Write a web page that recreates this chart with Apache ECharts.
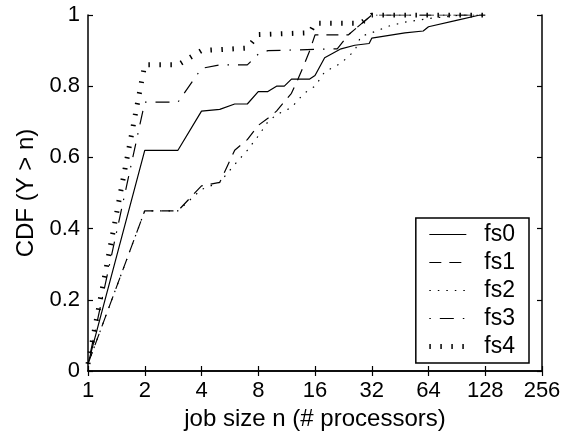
<!DOCTYPE html>
<html>
<head>
<meta charset="utf-8">
<script src="https://cdn.jsdelivr.net/npm/echarts@6/dist/echarts.min.js"></script>
<style>html,body{margin:0;padding:0;background:#fff;}#c{width:570px;height:438px;}</style>
</head>
<body>
<div id="c"></div>
<script>
var seriesNames = ['fs0', 'fs1', 'fs2', 'fs3', 'fs4'];
var fs0 = [[1,0.02],[2,0.62],[3,0.62],[4,0.73],[5,0.735],[6,0.75],[7,0.75],[8,0.785],[9,0.785],[10,0.80],[11,0.80],[12,0.82],[15,0.82],[16,0.83],[18,0.88],[22,0.905],[26,0.915],[31,0.92],[32,0.935],[48,0.95],[60,0.955],[64,0.967],[90,0.985],[120,1.0],[128,1.0]];
var fs1 = [[1,0.02],[2,0.45],[3,0.45],[4,0.52],[5,0.53],[6,0.62],[7,0.65],[8,0.69],[9,0.71],[10,0.73],[12,0.78],[13,0.82],[14,0.86],[15,0.90],[16,0.944],[24,0.944],[32,1.0],[128,1.0]];
var fs2 = [[1,0.02],[2,0.45],[3,0.45],[4,0.51],[5,0.53],[6,0.58],[7,0.62],[8,0.66],[9,0.70],[10,0.72],[12,0.74],[14,0.78],[16,0.80],[18,0.84],[22,0.865],[26,0.90],[28,0.94],[32,0.95],[40,0.97],[48,0.98],[64,0.99],[96,1.0],[128,1.0]];
var fs3 = [[1,0.02],[2,0.755],[3,0.755],[4,0.85],[5,0.86],[7,0.86],[8,0.89],[9,0.90],[21,0.905],[24,0.944],[32,1.0],[128,1.0]];
var fs4 = [[1,0.02],[2,0.86],[3,0.86],[4,0.90],[7,0.907],[8,0.945],[15,0.95],[16,0.977],[28,0.977],[32,1.0],[128,1.0]];
var xTicks = [1, 2, 4, 8, 16, 32, 64, 128, 256];
var yTicks = [0, 0.2, 0.4, 0.6, 0.8, 1];
var xName = 'job size n (# processors)';
var yName = 'CDF (Y > n)';

var FONT = '"Liberation Sans", Arial, sans-serif';
var dataSets = [fs0, fs1, fs2, fs3, fs4];
var styles = [
  {width: 1.2, type: 'solid'},
  {width: 1.2, type: [12, 8]},
  {width: 1.2, type: [1.5, 7]},
  {width: 1.2, type: [1.5, 9, 14, 9]},
  {width: 5, type: [1.5, 9.5]}
];

var chart = echarts.init(document.getElementById('c'), null, {renderer: 'canvas'});
var axisLine = {show: true, lineStyle: {color: '#000', width: 1.5}};
var tick = {show: true, inside: true, length: 5, lineStyle: {color: '#000', width: 1.2}};
function xAx(pos, show) {
  return {
    type: 'log', logBase: 2, min: xTicks[0], max: xTicks[xTicks.length - 1], position: pos,
    axisLine: axisLine, axisTick: tick, splitLine: {show: false},
    axisLabel: {show: show, color: '#000', fontFamily: FONT, fontSize: 22, margin: 9},
    name: show ? xName : '', nameLocation: 'middle', nameGap: 36,
    nameTextStyle: {color: '#000', fontFamily: FONT, fontSize: 24}
  };
}
function yAx(pos, show) {
  return {
    type: 'value', min: yTicks[0], max: yTicks[yTicks.length - 1], interval: 0.2, position: pos,
    axisLine: axisLine, axisTick: tick, splitLine: {show: false},
    axisLabel: {show: show, color: '#000', fontFamily: FONT, fontSize: 22, margin: 8},
    name: show ? yName : '', nameLocation: 'middle', nameGap: 46,
    nameTextStyle: {color: '#000', fontFamily: FONT, fontSize: 24}
  };
}
chart.setOption({
  animation: false,
  backgroundColor: '#fff',
  grid: {left: 88, right: 28, top: 15, bottom: 67, containLabel: false},
  xAxis: [xAx('bottom', true), xAx('top', false)],
  yAxis: [yAx('left', true), yAx('right', false)],
  legend: {
    orient: 'vertical', right: 41, top: 218,
    backgroundColor: '#fff', borderColor: '#000', borderWidth: 1.5,
    padding: [5, 14, 5, 11], itemWidth: 37, itemHeight: 14, itemGap: 5,
    itemStyle: {opacity: 0},
    textStyle: {color: '#000', fontFamily: FONT, fontSize: 23, lineHeight: 22, padding: [0, 0, 0, 13]},
    data: seriesNames.map(function (n, i) {
      return {name: n, lineStyle: {color: '#000', width: styles[i].width, type: styles[i].type, cap: 'butt'}};
    })
  },
  series: seriesNames.map(function (n, i) {
    return {
      name: n, type: 'line', data: dataSets[i], symbol: 'none', xAxisIndex: 0, yAxisIndex: 0,
      lineStyle: {color: '#000', width: styles[i].width, type: styles[i].type, cap: 'butt'},
      itemStyle: {color: '#000'}
    };
  })
});
</script>
</body>
</html>
